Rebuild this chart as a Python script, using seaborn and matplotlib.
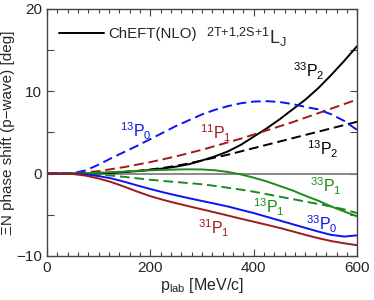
import matplotlib
matplotlib.use('Agg')
import matplotlib.pyplot as plt
from matplotlib.lines import Line2D
from matplotlib.ticker import MultipleLocator
import seaborn as sns
import numpy as np

# momentum grid [MeV/c]
p_lab = np.arange(0, 601, 25)

# phase shifts [deg]
p33P2 = [0, 0, 0, 0.02, 0.05, 0.1, 0.2, 0.3, 0.45, 0.63, 0.85, 1.15, 1.6, 2.1, 2.7,
         3.5, 4.5, 5.5, 6.6, 7.8, 9.0, 10.4, 12.0, 13.7, 15.5]
p13P0 = [0, 0, 0.05, 0.4, 1.1, 1.9, 2.65, 3.4, 4.2, 5.0, 5.8, 6.5, 7.2, 7.75, 8.2,
         8.55, 8.75, 8.8, 8.7, 8.45, 8.1, 7.8, 7.2, 6.4, 5.3]
p11P1 = [0, 0, 0.05, 0.15, 0.3, 0.55, 0.8, 1.1, 1.4, 1.75, 2.1, 2.5, 2.9, 3.35, 3.8,
         4.25, 4.75, 5.25, 5.75, 6.25, 6.8, 7.35, 7.9, 8.45, 9.0]
p13P2 = [0, 0, 0, 0.02, 0.05, 0.1, 0.2, 0.33, 0.5, 0.7, 0.95, 1.25, 1.6, 1.95, 2.3,
         2.7, 3.1, 3.5, 3.9, 4.3, 4.7, 5.1, 5.5, 5.9, 6.3]
p33P1 = [0, 0, 0.02, 0.05, 0.1, 0.17, 0.25, 0.33, 0.4, 0.45, 0.5, 0.52, 0.5, 0.4, 0.2,
         -0.1, -0.5, -0.95, -1.5, -2.05, -2.7, -3.3, -4.0, -4.6, -5.2]
p13P1 = [0, 0, -0.02, -0.05, -0.1, -0.25, -0.4, -0.58, -0.75, -0.9, -1.03, -1.16, -1.3,
         -1.5, -1.72, -1.95, -2.2, -2.5, -2.8, -3.1, -3.4, -3.7, -4.0, -4.35, -4.8]
p33P0 = [0, 0, -0.02, -0.1, -0.3, -0.6, -1.0, -1.45, -1.88, -2.28, -2.65, -3.0, -3.33,
         -3.66, -4.0, -4.4, -4.8, -5.25, -5.7, -6.15, -6.6, -7.05, -7.45, -7.65, -7.5]
p31P1 = [0, 0, -0.05, -0.25, -0.6, -1.05, -1.6, -2.2, -2.75, -3.2, -3.6, -3.98, -4.35,
         -4.72, -5.1, -5.48, -5.85, -6.22, -6.6, -7.02, -7.45, -7.85, -8.2, -8.47, -8.7]

blue = '#0a14f0'
red = '#a01a1a'
green = '#1c8a1c'
dash = (0, (5, 2.5))

sns.set_style('ticks')
plt.rcParams['font.family'] = ['Liberation Sans', 'DejaVu Sans']
plt.rcParams['mathtext.fontset'] = 'custom'
plt.rcParams['mathtext.rm'] = 'Liberation Sans'
plt.rcParams['mathtext.it'] = 'Liberation Sans:italic'

fig = plt.figure(figsize=(3.74, 3.0), dpi=100)
ax = fig.add_axes([0.126, 0.147, 0.829, 0.823])

ax.axhline(0, color='#808080', lw=1.3, zorder=1)

curves = [
    (p33P2, 'black', '-'),
    (p13P2, 'black', dash),
    (p11P1, red, dash),
    (p13P0, blue, dash),
    (p33P1, green, '-'),
    (p13P1, green, dash),
    (p33P0, blue, '-'),
    (p31P1, red, '-'),
]
for vals, col, ls in curves:
    sns.lineplot(x=p_lab, y=vals, color=col, linestyle=ls, lw=1.4, ax=ax)

fs = 11.5
labels = [
    (475, 12.4, r'$^{33}\mathrm{P}_2$', 'black'),
    (141, 5.2, r'$^{13}\mathrm{P}_0$', blue),
    (296, 4.9, r'$^{11}\mathrm{P}_1$', red),
    (502, 3.0, r'$^{13}\mathrm{P}_2$', 'black'),
    (509, -1.6, r'$^{33}\mathrm{P}_1$', green),
    (398, -4.1, r'$^{13}\mathrm{P}_1$', green),
    (501, -6.2, r'$^{33}\mathrm{P}_0$', blue),
    (292, -6.6, r'$^{31}\mathrm{P}_1$', red),
]
for x, y, s, c in labels:
    ax.text(x, y, s, color=c, fontsize=fs, ha='left', va='center')

ax.text(308, 16.5, r'$^{\mathrm{2T{+}1{,}2S{+}1}}\mathrm{L}_\mathrm{J}$',
        fontsize=13, ha='left', va='center')

handle = Line2D([], [], color='black', lw=1.4)
ax.legend([handle], ['ChEFT(NLO)'], loc='upper left', frameon=False,
          fontsize=10.8, handlelength=3.0, handletextpad=0.25,
          bbox_to_anchor=(0.0, 0.975), borderaxespad=0.4)

ax.set_xlim(0, 600)
ax.set_ylim(-10, 20)
ax.xaxis.set_major_locator(MultipleLocator(200))
ax.xaxis.set_minor_locator(MultipleLocator(20))
ax.yaxis.set_major_locator(MultipleLocator(10))
ax.yaxis.set_minor_locator(MultipleLocator(5))
ax.tick_params(which='both', direction='in', top=True, right=True, labelsize=11,
               color='#444444')
ax.tick_params(which='major', length=5, width=0.8)
ax.tick_params(which='minor', length=3, width=0.8)
ax.tick_params(axis='y', which='minor', length=5)
ax.set_yticks([-10, 0, 10, 20])
ax.set_yticklabels(['\u221210', '0', '10', '20'])
for sp in ax.spines.values():
    sp.set_color('#444444')
    sp.set_linewidth(1.0)

ax.set_xlabel(r'p$_{\mathrm{lab}}$ [MeV/c]', fontsize=11.5, labelpad=1)
ax.set_ylabel('\u039eN phase shift (p\u2212wave) [deg]', fontsize=11, labelpad=1)

fig.savefig('out.png', dpi=100)
plt.close(fig)
